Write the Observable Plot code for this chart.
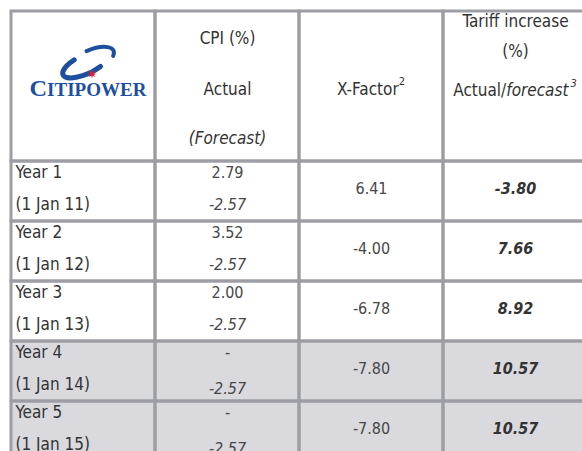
<!DOCTYPE html>
<html><head><meta charset="utf-8">
<script src="https://cdn.jsdelivr.net/npm/d3@7"></script>
<script src="https://cdn.jsdelivr.net/npm/@observablehq/plot@0.6"></script>
<style>
html,body{margin:0;padding:0;background:#fff;overflow:hidden;}
#chart svg{display:block;}
</style></head><body><div id="chart"></div>
<script>
// ---- data ----
const years = ["Year 1", "Year 2", "Year 3", "Year 4", "Year 5"];
const startDates = ["(1 Jan 11)", "(1 Jan 12)", "(1 Jan 13)", "(1 Jan 14)", "(1 Jan 15)"];
const cpiActual = [2.79, 3.52, 2.00, null, null];
const cpiForecast = [-2.57, -2.57, -2.57, -2.57, -2.57];
const xFactor = [6.41, -4.00, -6.78, -7.80, -7.80];
const tariffIncrease = [-3.80, 7.66, 8.92, 10.57, 10.57];
const cpiHeader = ["CPI (%)", "Actual", "(Forecast)"];
const xFactorHeader = ["X-Factor", "2"];
const tariffHeader = ["Tariff increase", "(%)"];
const tariffSubHeader = ["Actual/", "forecast", "3"];
const logoText = ["C", "ITIPOWER"];

// ---- layout / style ----
const FONT = "'Liberation Sans Narrow','Arial Narrow','DejaVu Sans Condensed',sans-serif";
const TXT = "#333";
const NUM = "#474747";
const BORDER = "#9d9ea5";
const SHADE = "#d9d9de";
const FS = 17;
const LINE1 = 0.19, LINE2 = 0.72, MID = 0.46;

const rows = years.map((year, i) => ({
  i, year, date: startDates[i],
  cpiA: cpiActual[i], cpiF: cpiForecast[i], xf: xFactor[i], tariff: tariffIncrease[i]
}));

const cells = [];
for (let c = 0; c < 4; ++c) {
  cells.push({c, y1: -2.5, y2: 0, shaded: false});
  rows.forEach(r => cells.push({c, y1: r.i, y2: r.i + 1, shaded: r.cpiA == null}));
}

const fmt = v => v.toFixed(2);

function headerExtras(index, scales) {
  const g = d3.create("svg:g")
    .attr("font-family", FONT).attr("fill", TXT).attr("font-size", FS)
    .attr("text-anchor", "middle");
  // X-Factor with superscript
  const t1 = g.append("text").attr("x", scales.x(2.5)).attr("y", scales.y(-1.2)).attr("dy", "0.35em");
  t1.append("tspan").text(xFactorHeader[0]);
  t1.append("tspan").attr("font-size", 11).attr("dy", -10).text(xFactorHeader[1]);
  // Actual/forecast with superscript
  const t2 = g.append("text").attr("x", scales.x(3.5)).attr("y", scales.y(-1.19)).attr("dy", "0.35em");
  t2.append("tspan").text(tariffSubHeader[0]);
  t2.append("tspan").attr("font-style", "italic").text(tariffSubHeader[1]);
  t2.append("tspan").attr("font-style", "italic").attr("font-size", 11).attr("dy", -9).attr("dx", 2).text(tariffSubHeader[2]);

  // logo
  const cx = scales.x(0.5), cy = scales.y(-1.25);
  const logo = g.append("g").attr("transform", `translate(${cx + 5},${cy})`);
  const blue = "#1d4f9f";
  const sw = logo.append("g").attr("transform", "translate(1,-24) rotate(-25)")
    .attr("fill", "none").attr("stroke", blue).attr("stroke-linecap", "round");
  const ell = (rx, ry, t) => [rx * Math.cos(t * Math.PI / 180), ry * Math.sin(t * Math.PI / 180)];
  let [ax, ay] = ell(25, 9.5, 240), [bx, by] = ell(25, 9.5, 70);
  sw.append("path").attr("stroke-width", 5)
    .attr("d", `M${ax},${ay} A25,9.5 0 1 0 ${bx},${by}`);
  [ax, ay] = ell(27, 11, 275); [bx, by] = ell(27, 11, 25);
  sw.append("path").attr("stroke-width", 4)
    .attr("d", `M${ax},${ay} A27,11 0 0 1 ${bx},${by}`);
  const lt = logo.append("text").attr("y", 10).attr("font-family", "'Liberation Serif','DejaVu Serif',serif")
    .attr("font-weight", "bold").attr("fill", blue).attr("text-anchor", "middle")
    .attr("textLength", 117).attr("lengthAdjust", "spacingAndGlyphs");
  lt.append("tspan").attr("font-size", 23).text(logoText[0]);
  lt.append("tspan").attr("font-size", 18).text(logoText[1]);
  // red star
  const star = d3.range(16).map(k => {
    const r = k % 2 ? 2 : 4.5, a = k * Math.PI / 8;
    return [r * Math.cos(a), r * Math.sin(a)];
  });
  logo.append("path").attr("fill", "#d8203f")
    .attr("d", "M" + star.map(p => p.join(",")).join("L") + "Z")
    .attr("transform", "translate(4,-12)");
  return g.node();
}

const chart = Plot.plot({
  width: 582,
  height: 451,
  margin: 0,
  x: {domain: [0, 4], range: [11, 587], axis: null},
  y: {domain: [-2.5, 5], range: [11, 461], axis: null},
  color: {type: "identity"},
  style: {fontFamily: FONT, background: "#fff", overflow: "hidden"},
  marks: [
    Plot.rect(cells, {x1: d => d.c, x2: d => d.c + 1, y1: "y1", y2: "y2",
      fill: d => d.shaded ? SHADE : "#fff"}),
    Plot.rect(cells, {x1: d => d.c, x2: d => d.c + 1, y1: "y1", y2: "y2",
      fill: "none", stroke: BORDER, strokeWidth: 3}),
    // header
    Plot.text(cpiHeader.slice(0, 2), {x: () => 1.5, y: (d, i) => -2.05 + i * 0.85, text: d => d,
      fontSize: FS, fill: TXT}),
    Plot.text(cpiHeader.slice(2), {x: () => 1.5, y: () => -0.39, text: d => d,
      fontSize: FS, fill: TXT, fontStyle: "italic"}),
    Plot.text(tariffHeader, {x: () => 3.5, y: (d, i) => -2.33 + i * 0.5, text: d => d,
      fontSize: FS, fill: TXT}),
    headerExtras,
    // body
    Plot.text(rows, {x: () => 0, y: d => d.i + LINE1, text: "year", textAnchor: "start", dx: 4,
      fontSize: FS, fill: TXT}),
    Plot.text(rows, {x: () => 0, y: d => d.i + LINE2, text: "date", textAnchor: "start", dx: 4,
      fontSize: FS, fill: TXT}),
    Plot.text(rows, {x: () => 1.5, y: d => d.i + LINE1, text: d => d.cpiA == null ? "-" : fmt(d.cpiA),
      fontSize: FS - 1, fill: NUM}),
    Plot.text(rows, {x: () => 1.5, y: d => d.i + (d.cpiA == null ? LINE2 + 0.07 : LINE2), text: d => fmt(d.cpiF),
      fontSize: FS - 1, fill: NUM, fontStyle: "italic"}),
    Plot.text(rows, {x: () => 2.5, y: d => d.i + MID, text: d => fmt(d.xf),
      fontSize: FS - 1, fill: NUM}),
    Plot.text(rows, {x: () => 3.5, y: d => d.i + MID, text: d => fmt(d.tariff),
      fontSize: FS - 1, fill: TXT, fontStyle: "italic", fontWeight: "bold"})
  ]
});
document.getElementById("chart").append(chart);
</script>
</body></html>
